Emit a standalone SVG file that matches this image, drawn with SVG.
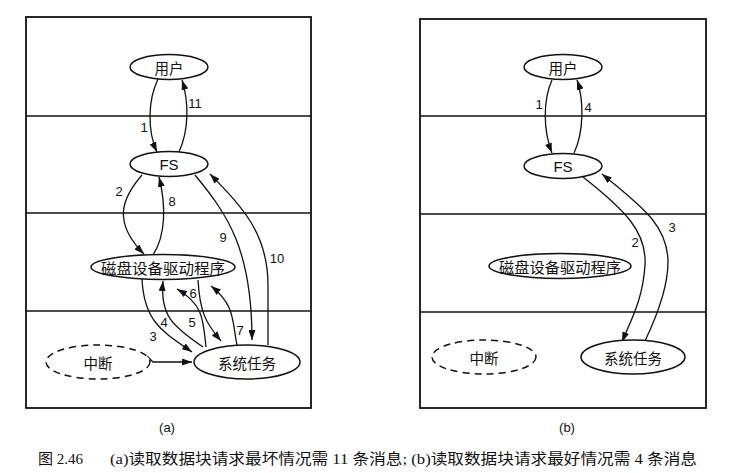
<svg xmlns="http://www.w3.org/2000/svg" width="739" height="473" viewBox="0 0 739 473">
  <style>
    .panel { fill: none; stroke: #111; stroke-width: 1.8; }
    .band { stroke: #111; stroke-width: 1.6; }
    .node { fill: #fff; stroke: #111; stroke-width: 1.5; }
    .dashed { fill: #fff; stroke: #111; stroke-width: 1.5; stroke-dasharray: 7 5; }
    .lbl { font-family: "Noto Sans CJK SC", "Liberation Sans", sans-serif; font-size: 14.5px; fill: #111; text-anchor: middle; dominant-baseline: central; }
    .fs { font-family: "Liberation Sans", "Noto Sans", sans-serif; font-size: 15px; fill: #111; text-anchor: middle; dominant-baseline: central; }
    .num { font-family: "Liberation Sans", "Noto Sans", sans-serif; font-size: 13px; fill: #111; text-anchor: middle; dominant-baseline: central; }
    .edge { fill: none; stroke: #111; stroke-width: 1.3; marker-end: url(#head); }
    .cap { font-family: "Liberation Serif", "Noto Sans CJK SC", serif; font-size: 15px; fill: #111; }
  </style>
  <defs>
    <marker id="head" markerUnits="userSpaceOnUse" markerWidth="11" markerHeight="7" refX="10" refY="3.5" orient="auto">
      <path d="M0,0 L10,3.5 L0,7 z" fill="#111"/>
    </marker>
  </defs>

  <!-- panel frames and layer bands -->
  <g id="frames">
    <rect class="panel" x="26" y="17" width="285" height="391"/>
    <line class="band" x1="26" y1="116" x2="311" y2="116"/>
    <line class="band" x1="26" y1="213" x2="311" y2="213"/>
    <line class="band" x1="26" y1="311" x2="311" y2="311"/>
    <rect class="panel" x="420" y="19" width="286" height="389"/>
    <line class="band" x1="420" y1="116" x2="706" y2="116"/>
    <line class="band" x1="420" y1="214" x2="706" y2="214"/>
    <line class="band" x1="420" y1="312" x2="706" y2="312"/>
  </g>

  <!-- message arrows -->
  <g id="connectors">
    <!-- (a) worst case -->
    <path class="edge" d="M158,79 C148,100 147,130 157,152"/>
    <path class="edge" d="M179,152 C189,130 189,102 182,80"/>
    <path class="edge" d="M142,175 C122,198 112,222 144,254"/>
    <path class="edge" d="M153,255 C166,235 166,205 159,177"/>
    <path class="edge" d="M195,175 C228,215 252,250 252,340"/>
    <path class="edge" d="M268,345 L268,285 C268,232 240,205 210,174"/>
    <path class="edge" d="M142,279 C144,322 163,332 192,352"/>
    <path class="edge" d="M203,347 C172,326 160,315 163,281"/>
    <path class="edge" d="M206,347 C203,320 204,305 177,289"/>
    <path class="edge" d="M198,280 C200,312 205,322 221,341"/>
    <path class="edge" d="M237,345 C232,320 235,305 211,286"/>
    <path class="edge" d="M147,356 L153,362 L192,362"/>
    <!-- (b) best case -->
    <path class="edge" d="M552,80 C543,100 543,130 552,153"/>
    <path class="edge" d="M574,153 C584,132 584,100 577,80"/>
    <path class="edge" d="M583,177 C625,210 647,232 645,265 C643,300 630,322 622,342"/>
    <path class="edge" d="M645,341 C655,320 668,290 668,262 C668,225 640,205 602,174"/>
  </g>

  <g id="labels-a">
    <text class="num" x="144" y="127">1</text>
    <text class="num" x="195" y="103">11</text>
    <text class="num" x="119" y="191">2</text>
    <text class="num" x="172" y="201">8</text>
    <text class="num" x="223" y="237">9</text>
    <text class="num" x="277" y="258">10</text>
    <text class="num" x="153" y="336">3</text>
    <text class="num" x="164" y="322">4</text>
    <text class="num" x="192" y="322">5</text>
    <text class="num" x="193" y="293">6</text>
    <text class="num" x="240" y="330">7</text>
  </g>
  <g id="labels-b">
    <text class="num" x="539" y="104">1</text>
    <text class="num" x="588" y="107">4</text>
    <text class="num" x="635" y="242">2</text>
    <text class="num" x="672" y="227">3</text>
  </g>

  <!-- nodes of panel (a) -->
  <g id="a-user"><ellipse class="node" cx="169" cy="67" rx="39" ry="12.5"/><text class="lbl" x="169" y="67">用户</text></g>
  <g id="a-fs"><ellipse class="node" cx="169" cy="164" rx="39" ry="12.5"/><text class="fs" x="169" y="164">FS</text></g>
  <g id="a-driver"><ellipse class="node" cx="163" cy="267" rx="72" ry="12.5"/><text class="lbl" x="163" y="267" textLength="124" lengthAdjust="spacingAndGlyphs">磁盘设备驱动程序</text></g>
  <g id="a-interrupt"><ellipse class="dashed" cx="98" cy="362" rx="52" ry="17"/><text class="lbl" x="98" y="362">中断</text></g>
  <g id="a-systask"><ellipse class="node" cx="247" cy="362" rx="53" ry="17"/><text class="lbl" x="247" y="362">系统任务</text></g>

  <!-- nodes of panel (b) -->
  <g id="b-user"><ellipse class="node" cx="563" cy="67" rx="39" ry="12.5"/><text class="lbl" x="563" y="67">用户</text></g>
  <g id="b-fs"><ellipse class="node" cx="563" cy="166" rx="39" ry="12.5"/><text class="fs" x="563" y="166">FS</text></g>
  <g id="b-driver"><ellipse class="node" cx="560" cy="266" rx="71" ry="12.5"/><text class="lbl" x="560" y="266" textLength="122" lengthAdjust="spacingAndGlyphs">磁盘设备驱动程序</text></g>
  <g id="b-interrupt"><ellipse class="dashed" cx="484" cy="357" rx="52" ry="17"/><text class="lbl" x="484" y="357">中断</text></g>
  <g id="b-systask"><ellipse class="node" cx="633" cy="357" rx="52" ry="17"/><text class="lbl" x="633" y="357">系统任务</text></g>

  <g id="captions">
    <text class="num" x="167" y="427">(a)</text>
    <text class="num" x="567" y="427">(b)</text>
    <text class="cap" x="38" y="464">图 2.46</text>
    <text class="cap" x="110" y="464" textLength="587" lengthAdjust="spacingAndGlyphs">(a)读取数据块请求最坏情况需 11 条消息; (b)读取数据块请求最好情况需 4 条消息</text>
  </g>
</svg>
